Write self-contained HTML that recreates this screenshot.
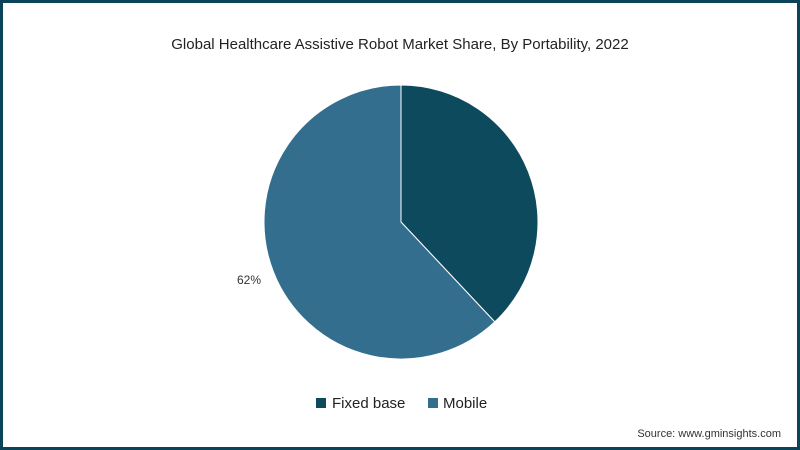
<!DOCTYPE html>
<html><head><meta charset="utf-8"><style>
html,body{margin:0;padding:0;}
body{width:800px;height:450px;overflow:hidden;background:#fff;font-family:"Liberation Sans",sans-serif;}
#frame{position:absolute;left:0;top:0;width:794px;height:444px;border:3px solid #0b4458;}
svg{position:absolute;left:0;top:0;}
</style></head><body>
<div id="frame"></div>
<svg id="chart" width="800" height="450">
<text x="400" y="49" text-anchor="middle" font-size="15" fill="#222">Global Healthcare Assistive Robot Market Share, By Portability, 2022</text>
<g id="slices"></g>
<text x="249" y="284" text-anchor="middle" font-size="12" fill="#333" id="lbl"></text>
<g>
<rect x="316" y="398" width="10" height="10" fill="#0d4a5e"/>
<text x="332" y="408" font-size="15" fill="#222">Fixed base</text>
<rect x="428" y="398" width="10" height="10" fill="#336e8e"/>
<text x="443" y="408" font-size="15" fill="#222">Mobile</text>
</g>
<text x="781" y="437" text-anchor="end" font-size="11" fill="#333">Source: www.gminsights.com</text>
</svg>
<script>
const categories=["Fixed base","Mobile"];
const values=[38,62];
const labels=["","62%"];
const colors=["#0d4a5e","#336e8e"];
const cx=401,cy=222,r=137;
const g=document.getElementById('slices');
const total=values.reduce((a,b)=>a+b,0);
let a0=0;
values.forEach((v,i)=>{
  const a1=a0+v/total*2*Math.PI;
  const x0=cx+r*Math.sin(a0),y0=cy-r*Math.cos(a0);
  const x1=cx+r*Math.sin(a1),y1=cy-r*Math.cos(a1);
  const large=(a1-a0)>Math.PI?1:0;
  const p=document.createElementNS('http://www.w3.org/2000/svg','path');
  p.setAttribute('d',`M${cx},${cy}L${x0},${y0}A${r},${r} 0 ${large} 1 ${x1},${y1}Z`);
  p.setAttribute('fill',colors[i]);
  p.setAttribute('stroke','#fff');
  p.setAttribute('stroke-width','1');
  
  
  g.appendChild(p);
  a0=a1;
});
document.getElementById('lbl').textContent=labels[1];
</script>
</body></html>
